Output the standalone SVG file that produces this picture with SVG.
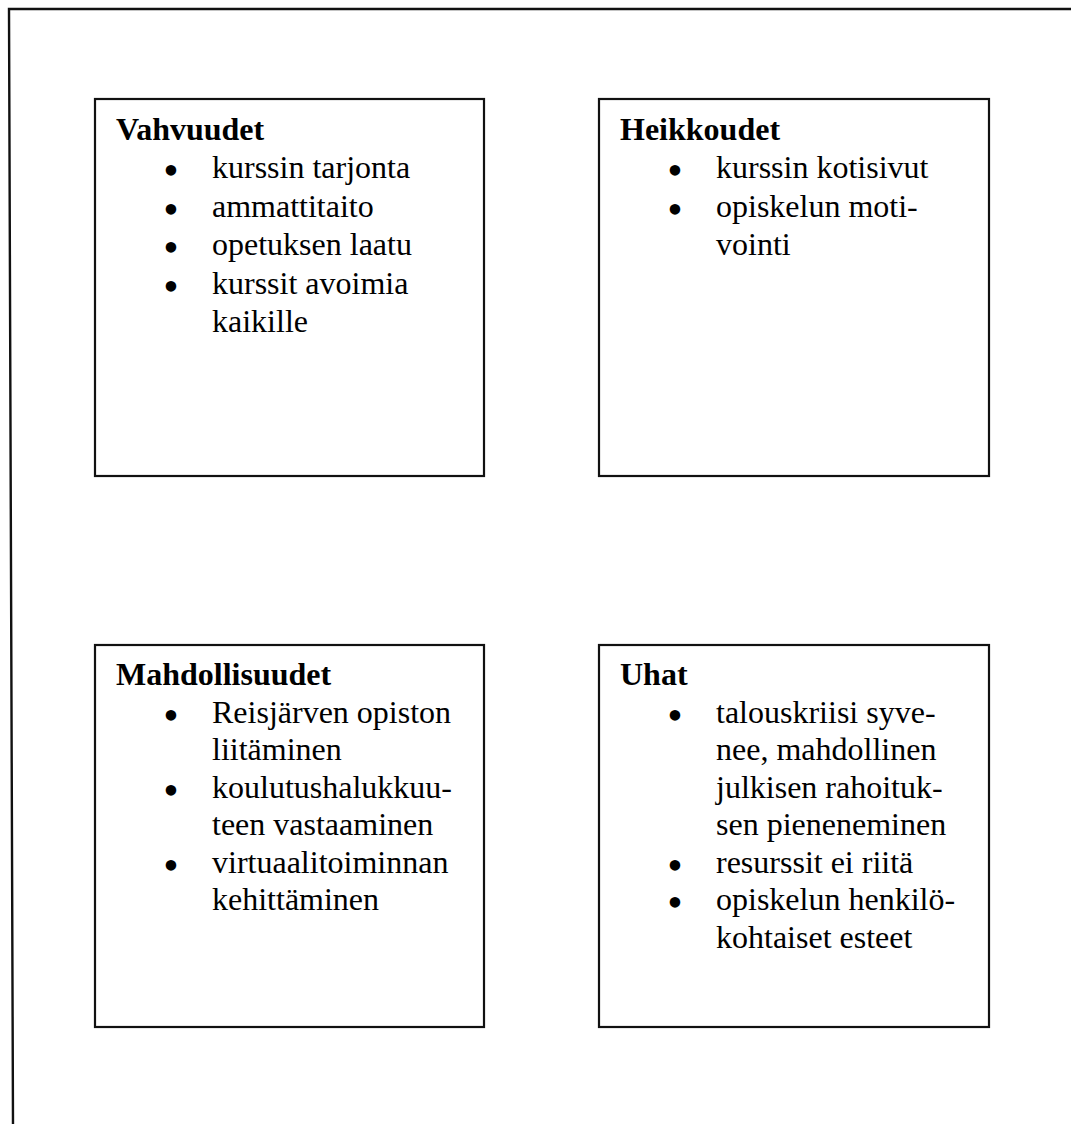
<svg xmlns="http://www.w3.org/2000/svg" width="1071" height="1124" viewBox="0 0 1071 1124">
  <style>
    .box { fill: #ffffff; stroke: #111111; stroke-width: 2.2; }
    .frame { fill: none; stroke: #111111; stroke-width: 2.4; }
    text { font-family: "Liberation Serif", "Times New Roman", serif; font-size: 32px; fill: #000000; }
    .title { font-weight: bold; }
    .dot { text-anchor: middle; font-size: 44px; }
  </style>
  <rect width="1071" height="1124" fill="#ffffff"/>

  <!-- outer page frame -->
  <g id="frame">
    <polyline class="frame" points="13,1124 9,9 1071,9"/>
  </g>

  <!-- strengths -->
  <g id="vahvuudet">
    <rect class="box" x="95" y="99" width="389" height="377"/>
    <text class="title" x="116" y="140">Vahvuudet</text>
    <text class="dot" x="171" y="185.4">•</text>
    <text x="212" y="178.4">kurssin tarjonta</text>
    <text class="dot" x="171" y="223.8">•</text>
    <text x="212" y="216.8">ammattitaito</text>
    <text class="dot" x="171" y="262.2">•</text>
    <text x="212" y="255.2">opetuksen laatu</text>
    <text class="dot" x="171" y="300.6">•</text>
    <text x="212" y="293.6">kurssit avoimia</text>
    <text x="212" y="332">kaikille</text>
  </g>

  <!-- weaknesses -->
  <g id="heikkoudet">
    <rect class="box" x="599" y="99" width="390" height="377"/>
    <text class="title" x="620" y="140">Heikkoudet</text>
    <text class="dot" x="675" y="185.4">•</text>
    <text x="716" y="178.4">kurssin kotisivut</text>
    <text class="dot" x="675" y="223.8">•</text>
    <text x="716" y="216.8">opiskelun moti-</text>
    <text x="716" y="255.2">vointi</text>
  </g>

  <!-- opportunities -->
  <g id="mahdollisuudet">
    <rect class="box" x="95" y="645" width="389" height="382"/>
    <text class="title" x="116" y="685">Mahdollisuudet</text>
    <text class="dot" x="171" y="729.5">•</text>
    <text x="212" y="722.5">Reisjärven opiston</text>
    <text x="212" y="760">liitäminen</text>
    <text class="dot" x="171" y="804.5">•</text>
    <text x="212" y="797.5">koulutushalukkuu-</text>
    <text x="212" y="835">teen vastaaminen</text>
    <text class="dot" x="171" y="879.5">•</text>
    <text x="212" y="872.5">virtuaalitoiminnan</text>
    <text x="212" y="910">kehittäminen</text>
  </g>

  <!-- threats -->
  <g id="uhat">
    <rect class="box" x="599" y="645" width="390" height="382"/>
    <text class="title" x="620" y="685">Uhat</text>
    <text class="dot" x="675" y="729.5">•</text>
    <text x="716" y="722.5">talouskriisi syve-</text>
    <text x="716" y="760">nee, mahdollinen</text>
    <text x="716" y="797.5">julkisen rahoituk-</text>
    <text x="716" y="835">sen pieneneminen</text>
    <text class="dot" x="675" y="879.5">•</text>
    <text x="716" y="872.5">resurssit ei riitä</text>
    <text class="dot" x="675" y="917">•</text>
    <text x="716" y="910">opiskelun henkilö-</text>
    <text x="716" y="947.5">kohtaiset esteet</text>
  </g>

  <!-- no connectors between the quadrants -->
  <g id="connectors"/>
</svg>
